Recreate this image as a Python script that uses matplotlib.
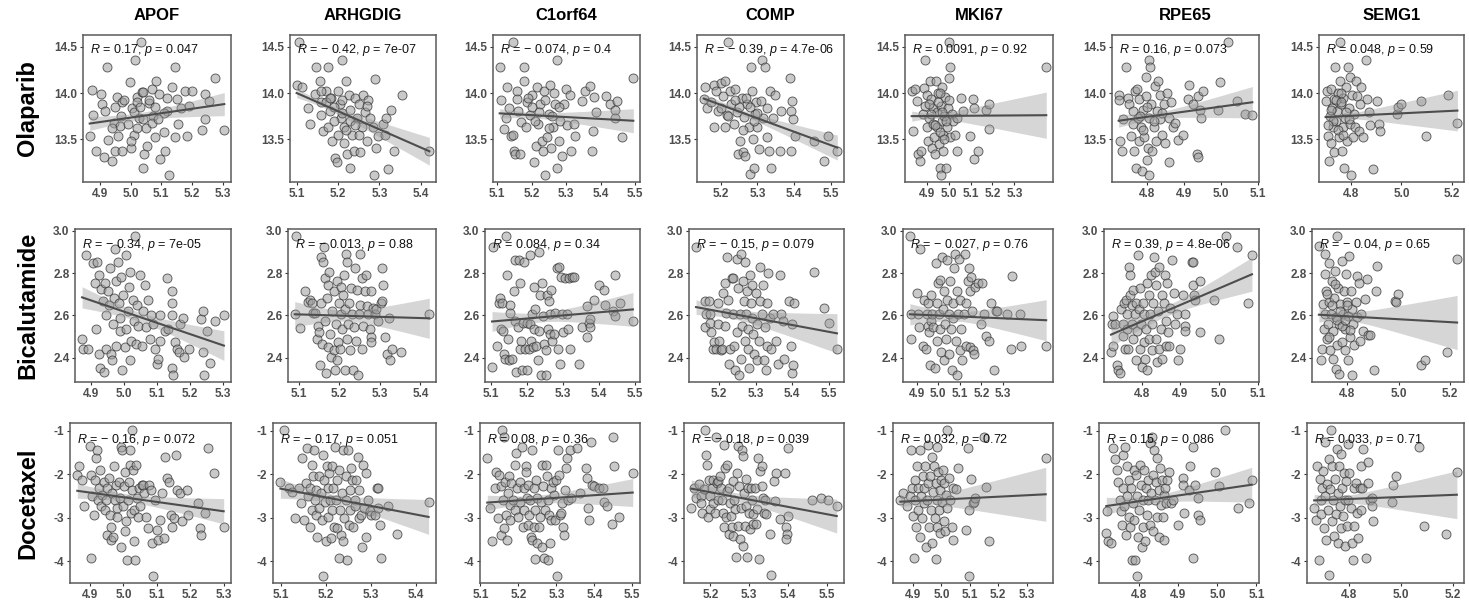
import numpy as np
import matplotlib
matplotlib.use("Agg")
import matplotlib.pyplot as plt
import matplotlib.transforms as mtransforms
from matplotlib.ticker import FixedLocator, FormatStrFormatter

plt.rcParams['font.family'] = ['Liberation Sans', 'DejaVu Sans']
plt.rcParams['font.weight'] = 'bold'
plt.rcParams['axes.unicode_minus'] = False
plt.rcParams['mathtext.fontset'] = 'custom'
plt.rcParams['mathtext.it'] = 'Liberation Sans:style=italic:weight=normal'
plt.rcParams['mathtext.rm'] = 'Liberation Sans:weight=normal'

GENES = ["APOF", "ARHGDIG", "C1orf64", "COMP", "MKI67", "RPE65", "SEMG1"]
DRUGS = ["Olaparib", "Bicalutamide", "Docetaxel"]

# correlation labels
OLA_R = [0.17, -0.42, -0.074, -0.39, 0.0091, 0.16, 0.048]
OLA_P = ["0.047", "7e-07", "0.4", "4.7e-06", "0.92", "0.073", "0.59"]
BIC_R = [-0.34, -0.013, 0.084, -0.15, -0.027, 0.39, -0.04]
BIC_P = ["7e-05", "0.88", "0.34", "0.079", "0.76", "4.8e-06", "0.65"]
DOC_R = [-0.16, -0.17, 0.08, -0.18, 0.032, 0.15, 0.033]
DOC_P = ["0.072", "0.051", "0.36", "0.039", "0.72", "0.086", "0.71"]

# x tick labels shown in each gene column
X_TICKS = [[4.9, 5.0, 5.1, 5.2, 5.3], [5.1, 5.2, 5.3, 5.4], [5.1, 5.2, 5.3, 5.4, 5.5],
           [5.2, 5.3, 5.4, 5.5], [4.9, 5.0, 5.1, 5.2, 5.3], [4.8, 4.9, 5.0, 5.1],
           [4.8, 5.0, 5.2]]
# y tick labels per drug row
Y_TICKS = [[13.5, 14.0, 14.5], [2.4, 2.6, 2.8, 3.0], [-4, -3, -2, -1]]

# drug response range per row (min, max)
Y_RANGE = [(13.11, 14.555), (2.318, 2.975), (-4.33, -0.99)]

# regression line: y at left end, y at right end, band half width left / narrowest / right
OLA_FIT = [(13.67, 13.88, 0.075, 0.04, 0.125), (14.0, 13.37, 0.05, 0.03, 0.15),
           (13.78, 13.70, 0.05, 0.03, 0.13), (13.94, 13.41, 0.055, 0.03, 0.135),
           (13.75, 13.76, 0.055, 0.025, 0.25), (13.70, 13.90, 0.07, 0.035, 0.17),
           (13.74, 13.81, 0.04, 0.025, 0.22)]
BIC_FIT = [(2.685, 2.457, 0.05, 0.022, 0.07), (2.605, 2.586, 0.06, 0.025, 0.095),
           (2.571, 2.628, 0.047, 0.022, 0.08), (2.639, 2.515, 0.035, 0.022, 0.093),
           (2.605, 2.577, 0.05, 0.022, 0.097), (2.509, 2.794, 0.055, 0.025, 0.08),
           (2.603, 2.566, 0.035, 0.02, 0.128)]
DOC_FIT = [(-2.38, -2.85, 0.17, 0.09, 0.29), (-2.33, -2.98, 0.22, 0.1, 0.4),
           (-2.65, -2.42, 0.17, 0.09, 0.32), (-2.33, -2.96, 0.2, 0.1, 0.39),
           (-2.63, -2.46, 0.12, 0.08, 0.62), (-2.73, -2.24, 0.2, 0.08, 0.4),
           (-2.60, -2.47, 0.14, 0.08, 0.55)]

# ---- Olaparib ----
OLA_APOF = [(4.867,13.54),(4.873,14.03),(4.878,13.76),(4.888,13.37),(4.913,13.31),(4.924,14.28),(4.904,13.99),(4.908,13.88),(4.918,13.81),(4.927,13.49),(4.938,13.26),(4.949,13.37),(4.946,13.68),(4.957,13.96),(4.967,13.64),(4.971,13.37),(4.973,13.90),(4.998,14.12),(5.000,13.41),(5.011,13.55),(5.005,13.84),(5.016,14.36),(5.020,13.96),(5.033,14.555),(5.027,13.73),(5.041,13.19),(5.043,13.34),(5.038,14.01),(5.054,13.43),(5.060,13.89),(5.071,14.04),(5.074,13.75),(5.082,14.13),(5.079,13.52),(5.096,13.29),(5.092,13.99),(5.109,13.58),(5.111,13.37),(5.124,13.11),(5.117,13.81),(5.136,14.07),(5.143,14.28),(5.146,13.52),(5.152,13.93),(5.154,13.66),(5.165,13.84),(5.177,14.02),(5.183,13.54),(5.190,13.86),(5.199,14.02),(5.234,13.60),(5.242,13.99),(5.241,13.72),(5.255,13.91),(5.275,14.16),(5.305,13.60),(4.95,13.85),(4.97,13.75),(4.99,13.66),(5.01,13.79),(5.02,13.90),(5.04,13.72),(5.05,13.62),(5.06,13.92),(5.08,13.85),(5.11,13.78),(4.94,13.62),(4.96,13.54),(5.00,13.48),(5.04,14.01),(5.03,13.85),(5.07,13.68),(5.09,13.72),(5.12,13.95),(4.98,13.92),(5.02,13.62)]
OLA_ARHGDIG = [(5.106,14.555),(5.100,14.09),(5.114,14.06),(5.128,13.84),(5.132,13.67),(5.148,14.28),(5.156,14.13),(5.144,13.99),(5.160,13.90),(5.158,13.76),(5.164,13.59),(5.176,14.28),(5.172,14.02),(5.184,13.95),(5.180,13.81),(5.176,13.63),(5.186,13.48),(5.193,13.30),(5.197,13.25),(5.200,14.02),(5.204,13.88),(5.208,13.73),(5.210,14.36),(5.214,13.63),(5.215,13.46),(5.220,14.13),(5.222,13.34),(5.226,13.98),(5.228,13.82),(5.230,13.19),(5.234,13.55),(5.238,13.37),(5.242,13.95),(5.245,13.73),(5.250,13.88),(5.253,13.36),(5.257,13.63),(5.261,13.98),(5.265,13.79),(5.269,13.48),(5.273,13.92),(5.277,13.73),(5.285,13.63),(5.289,14.15),(5.293,13.41),(5.287,13.11),(5.297,13.54),(5.309,13.66),(5.313,13.55),(5.317,13.73),(5.321,13.18),(5.329,13.82),(5.335,13.37),(5.355,13.98),(5.421,13.37),(5.17,13.90),(5.19,13.85),(5.21,13.78),(5.23,13.70),(5.19,13.70),(5.16,14.02),(5.22,13.60),(5.25,13.55),(5.20,13.55),(5.24,13.65),(5.18,13.95),(5.21,13.92),(5.27,13.86)]
OLA_C1ORF64 = [(5.107,14.28),(5.145,14.555),(5.112,13.92),(5.119,13.61),(5.124,13.73),(5.129,14.06),(5.134,13.84),(5.140,13.54),(5.145,13.55),(5.148,13.37),(5.151,13.34),(5.156,14.02),(5.158,13.93),(5.161,13.81),(5.165,13.34),(5.169,13.69),(5.177,14.28),(5.177,14.13),(5.182,13.63),(5.187,13.90),(5.194,13.76),(5.201,13.98),(5.208,13.25),(5.211,13.43),(5.216,14.06),(5.218,13.66),(5.225,13.88),(5.230,13.48),(5.233,13.37),(5.235,14.02),(5.240,13.11),(5.243,13.52),(5.249,13.77),(5.254,14.09),(5.256,13.41),(5.262,13.63),(5.266,14.00),(5.269,13.88),(5.273,14.36),(5.273,13.19),(5.278,13.48),(5.283,13.70),(5.288,13.32),(5.293,13.88),(5.300,14.04),(5.302,13.65),(5.310,13.98),(5.314,13.37),(5.322,13.66),(5.327,13.54),(5.346,13.91),(5.355,14.02),(5.370,14.08),(5.378,13.59),(5.375,13.37),(5.381,13.96),(5.387,13.79),(5.416,13.97),(5.428,13.88),(5.442,13.82),(5.447,13.91),(5.442,13.73),(5.461,13.52),(5.495,14.16),(5.20,13.85),(5.22,13.80),(5.24,13.92),(5.26,13.75),(5.19,13.95),(5.28,13.85),(5.21,13.70),(5.25,13.62)]
OLA_COMP = [(5.154,13.93),(5.158,14.06),(5.164,13.84),(5.173,13.90),(5.182,14.09),(5.182,13.63),(5.187,14.02),(5.193,13.81),(5.200,13.84),(5.202,14.11),(5.207,13.97),(5.213,14.13),(5.213,13.63),(5.218,13.76),(5.220,14.555),(5.225,14.02),(5.229,13.88),(5.236,13.66),(5.240,14.04),(5.245,13.79),(5.246,13.34),(5.254,13.48),(5.258,13.95),(5.262,13.36),(5.264,13.74),(5.267,13.32),(5.271,13.88),(5.276,13.63),(5.279,13.12),(5.282,14.28),(5.285,14.02),(5.288,13.50),(5.291,13.19),(5.294,13.77),(5.296,13.90),(5.300,13.63),(5.305,13.39),(5.309,13.91),(5.312,14.36),(5.316,13.73),(5.320,14.28),(5.325,13.52),(5.327,13.84),(5.332,13.37),(5.334,14.02),(5.338,13.19),(5.343,13.73),(5.349,13.98),(5.361,13.37),(5.365,13.81),(5.389,14.16),(5.392,13.81),(5.395,13.91),(5.392,13.37),(5.396,13.72),(5.403,13.54),(5.454,13.48),(5.481,13.27),(5.493,13.53),(5.517,13.37),(5.25,13.85),(5.27,13.95),(5.26,13.60),(5.29,13.70),(5.24,13.92),(5.28,13.85),(5.30,13.78),(5.22,13.75)]
OLA_MKI67 = [(4.832,14.02),(4.839,13.59),(4.847,14.04),(4.855,13.91),(4.862,13.34),(4.868,13.27),(4.876,13.37),(4.885,13.77),(4.888,14.05),(4.892,14.36),(4.894,13.86),(4.900,13.63),(4.903,13.98),(4.908,13.48),(4.912,13.73),(4.915,14.13),(4.918,13.93),(4.923,13.41),(4.927,13.66),(4.930,13.84),(4.933,13.52),(4.938,13.34),(4.942,14.13),(4.945,13.79),(4.948,13.63),(4.953,14.00),(4.958,13.45),(4.961,13.19),(4.964,13.86),(4.968,13.70),(4.968,14.06),(4.973,13.55),(4.976,13.37),(4.964,13.11),(4.979,13.75),(4.982,13.96),(4.986,13.19),(4.991,13.63),(4.998,13.84),(5.003,14.16),(5.006,14.28),(5.003,14.555),(5.006,13.52),(5.014,13.77),(5.021,13.70),(5.029,13.55),(5.036,13.73),(5.039,13.37),(5.055,13.95),(5.064,13.81),(5.097,13.53),(5.112,13.93),(5.115,13.29),(5.115,13.84),(5.135,13.37),(5.170,13.82),(5.186,13.88),(5.186,13.61),(5.445,14.28),(4.95,13.90),(4.97,13.80),(4.99,13.70),(4.92,13.77),(4.96,13.58),(5.00,13.92),(4.94,13.65),(4.98,13.50),(4.91,13.88),(4.96,14.00)]
OLA_RPE65 = [(4.723,13.98),(4.725,13.92),(4.727,13.48),(4.732,13.37),(4.736,13.72),(4.743,14.28),(4.748,13.95),(4.752,13.88),(4.757,13.54),(4.761,13.66),(4.763,13.81),(4.765,13.37),(4.768,14.02),(4.770,13.19),(4.772,14.04),(4.774,13.73),(4.777,13.48),(4.779,13.93),(4.783,13.63),(4.786,13.16),(4.788,13.82),(4.791,13.52),(4.796,14.17),(4.797,13.97),(4.800,13.28),(4.803,13.41),(4.805,13.11),(4.806,13.73),(4.806,14.36),(4.809,14.28),(4.811,13.88),(4.813,13.37),(4.818,13.63),(4.821,14.08),(4.823,13.48),(4.827,13.81),(4.830,14.13),(4.834,13.98),(4.836,13.72),(4.841,13.55),(4.845,13.88),(4.849,13.46),(4.854,14.00),(4.858,13.25),(4.860,13.73),(4.865,13.90),(4.869,13.63),(4.876,13.68),(4.883,13.49),(4.898,13.55),(4.910,13.93),(4.914,14.09),(4.925,13.88),(4.934,13.34),(4.937,13.31),(4.938,13.97),(4.943,13.82),(4.947,13.73),(4.951,14.02),(4.991,13.82),(4.998,14.12),(5.018,14.555),(5.044,13.91),(5.066,13.77),(5.085,13.76),(4.78,13.75),(4.80,13.85),(4.82,13.70),(4.79,13.60),(4.84,13.78)]
OLA_SEMG1 = [(4.699,13.91),(4.706,14.02),(4.708,13.54),(4.712,13.27),(4.716,13.75),(4.719,13.46),(4.721,14.04),(4.725,13.84),(4.729,13.63),(4.732,13.93),(4.734,13.36),(4.738,14.28),(4.742,13.70),(4.745,13.81),(4.747,14.00),(4.751,13.52),(4.755,14.555),(4.757,14.13),(4.760,13.88),(4.764,13.37),(4.768,13.63),(4.770,13.95),(4.772,13.19),(4.777,13.73),(4.781,14.06),(4.783,13.48),(4.787,14.28),(4.790,13.84),(4.794,13.66),(4.796,14.17),(4.799,13.11),(4.803,13.98),(4.806,13.52),(4.812,13.77),(4.816,13.63),(4.819,14.13),(4.825,13.97),(4.832,13.59),(4.835,13.88),(4.841,14.06),(4.848,13.52),(4.858,14.36),(4.863,13.93),(4.871,13.79),(4.876,13.65),(4.886,13.18),(4.901,13.91),(4.909,13.66),(4.914,13.59),(4.982,13.77),(4.988,13.85),(4.999,13.88),(5.079,13.91),(5.099,13.54),(5.183,13.98),(5.222,13.68),(4.73,13.70),(4.75,13.60),(4.76,14.00),(4.78,13.80),(4.72,13.82),(4.74,13.92),(4.77,13.55),(4.79,13.72),(4.71,13.65),(4.76,13.90)]

# ---- Bicalutamide ----
BIC_APOF = [(4.872,2.488),(4.874,2.442),(4.884,2.887),(4.889,2.442),(4.904,2.845),(4.910,2.752),(4.913,2.535),(4.917,2.853),(4.923,2.791),(4.923,2.419),(4.927,2.353),(4.930,2.726),(4.936,2.667),(4.938,2.333),(4.941,2.752),(4.944,2.442),(4.946,2.603),(4.951,2.713),(4.954,2.651),(4.956,2.825),(4.961,2.419),(4.964,2.388),(4.966,2.558),(4.968,2.682),(4.971,2.915),(4.974,2.760),(4.976,2.457),(4.981,2.853),(4.984,2.659),(4.987,2.589),(4.989,2.527),(4.992,2.783),(4.995,2.341),(4.997,2.698),(5.002,2.450),(5.005,2.884),(5.007,2.535),(5.012,2.620),(5.015,2.736),(5.017,2.388),(5.019,2.806),(5.022,2.481),(5.027,2.674),(5.029,2.574),(5.032,2.975),(5.035,2.465),(5.040,2.651),(5.043,2.550),(5.048,2.791),(5.053,2.457),(5.058,2.620),(5.063,2.744),(5.068,2.543),(5.073,2.674),(5.079,2.488),(5.081,2.603),(5.089,2.558),(5.094,2.442),(5.099,2.372),(5.104,2.395),(5.109,2.481),(5.110,2.603),(5.125,2.527),(5.130,2.775),(5.135,2.535),(5.145,2.713),(5.145,2.659),(5.145,2.603),(5.145,2.349),(5.150,2.318),(5.156,2.473),(5.161,2.442),(5.166,2.426),(5.171,2.558),(5.179,2.589),(5.181,2.403),(5.197,2.442),(5.233,2.581),(5.240,2.620),(5.240,2.426),(5.253,2.527),(5.261,2.375),(5.243,2.318),(5.276,2.571),(5.304,2.603)]
BIC_ARHGDIG = [(5.090,2.605),(5.092,2.974),(5.104,2.540),(5.116,2.713),(5.122,2.664),(5.128,2.674),(5.133,2.659),(5.136,2.612),(5.141,2.612),(5.146,2.488),(5.148,2.550),(5.149,2.519),(5.152,2.364),(5.154,2.876),(5.156,2.659),(5.157,2.465),(5.160,2.853),(5.162,2.922),(5.164,2.574),(5.165,2.775),(5.167,2.326),(5.170,2.682),(5.171,2.450),(5.173,2.744),(5.175,2.806),(5.178,2.512),(5.179,2.403),(5.183,2.620),(5.186,2.434),(5.187,2.713),(5.189,2.341),(5.191,2.558),(5.194,2.760),(5.195,2.388),(5.197,2.473),(5.199,2.659),(5.201,2.442),(5.203,2.736),(5.205,2.605),(5.207,2.535),(5.210,2.698),(5.211,2.791),(5.213,2.341),(5.215,2.628),(5.217,2.891),(5.219,2.488),(5.220,2.853),(5.222,2.558),(5.225,2.659),(5.227,2.434),(5.228,2.729),(5.232,2.605),(5.235,2.341),(5.236,2.543),(5.239,2.822),(5.241,2.481),(5.244,2.721),(5.247,2.318),(5.249,2.605),(5.251,2.891),(5.252,2.651),(5.255,2.775),(5.257,2.442),(5.259,2.550),(5.263,2.713),(5.267,2.791),(5.268,2.643),(5.271,2.605),(5.275,2.535),(5.279,2.713),(5.283,2.636),(5.287,2.605),(5.291,2.628),(5.295,2.574),(5.279,2.496),(5.279,2.473),(5.303,2.659),(5.305,2.667),(5.306,2.822),(5.308,2.744),(5.313,2.499),(5.318,2.419),(5.322,2.589),(5.326,2.388),(5.330,2.442),(5.352,2.426),(5.422,2.605)]
BIC_C1ORF64 = [(5.104,2.357),(5.107,2.922),(5.118,2.457),(5.123,2.659),(5.127,2.682),(5.129,2.535),(5.132,2.659),(5.135,2.527),(5.137,2.419),(5.141,2.395),(5.144,2.975),(5.146,2.791),(5.148,2.488),(5.150,2.388),(5.153,2.651),(5.155,2.612),(5.159,2.395),(5.164,2.713),(5.167,2.860),(5.168,2.574),(5.171,2.333),(5.175,2.543),(5.178,2.860),(5.181,2.752),(5.181,2.442),(5.183,2.481),(5.187,2.341),(5.190,2.566),(5.193,2.853),(5.196,2.442),(5.201,2.566),(5.202,2.341),(5.206,2.442),(5.208,2.884),(5.210,2.558),(5.212,2.481),(5.215,2.605),(5.217,2.450),(5.219,2.535),(5.221,2.732),(5.224,2.628),(5.226,2.457),(5.230,2.388),(5.233,2.899),(5.235,2.527),(5.237,2.698),(5.239,2.318),(5.242,2.752),(5.245,2.597),(5.247,2.465),(5.252,2.434),(5.254,2.318),(5.256,2.698),(5.258,2.535),(5.261,2.667),(5.264,2.605),(5.265,2.512),(5.268,2.721),(5.270,2.481),(5.275,2.512),(5.279,2.612),(5.284,2.822),(5.286,2.442),(5.289,2.829),(5.291,2.372),(5.295,2.783),(5.298,2.605),(5.300,2.519),(5.307,2.775),(5.312,2.605),(5.314,2.535),(5.316,2.775),(5.319,2.442),(5.325,2.783),(5.332,2.783),(5.344,2.369),(5.353,2.543),(5.367,2.643),(5.372,2.566),(5.376,2.543),(5.376,2.581),(5.367,2.496),(5.385,2.674),(5.399,2.744),(5.414,2.721),(5.417,2.648),(5.440,2.620),(5.444,2.791),(5.458,2.659),(5.444,2.597),(5.494,2.571)]
BIC_COMP = [(5.137,2.922),(5.161,2.670),(5.161,2.543),(5.165,2.605),(5.172,2.667),(5.174,2.605),(5.176,2.562),(5.178,2.519),(5.183,2.442),(5.187,2.473),(5.191,2.442),(5.196,2.659),(5.198,2.558),(5.200,2.481),(5.204,2.434),(5.209,2.442),(5.210,2.705),(5.216,2.752),(5.217,2.550),(5.219,2.612),(5.222,2.876),(5.224,2.674),(5.226,2.372),(5.230,2.442),(5.235,2.775),(5.237,2.605),(5.239,2.775),(5.242,2.457),(5.243,2.341),(5.248,2.868),(5.250,2.519),(5.252,2.729),(5.254,2.318),(5.257,2.605),(5.259,2.395),(5.261,2.891),(5.263,2.550),(5.265,2.760),(5.268,2.667),(5.270,2.481),(5.271,2.853),(5.274,2.605),(5.277,2.713),(5.278,2.535),(5.280,2.442),(5.283,2.349),(5.285,2.791),(5.287,2.659),(5.289,2.589),(5.291,2.744),(5.294,2.512),(5.296,2.419),(5.300,2.705),(5.303,2.558),(5.304,2.388),(5.309,2.481),(5.311,2.829),(5.313,2.667),(5.317,2.605),(5.320,2.744),(5.322,2.388),(5.326,2.543),(5.329,2.341),(5.330,2.659),(5.332,2.457),(5.335,2.798),(5.339,2.589),(5.343,2.442),(5.348,2.605),(5.357,2.481),(5.361,2.372),(5.367,2.791),(5.370,2.605),(5.374,2.574),(5.378,2.395),(5.391,2.667),(5.396,2.457),(5.400,2.558),(5.400,2.326),(5.404,2.659),(5.402,2.364),(5.461,2.806),(5.487,2.636),(5.500,2.566),(5.523,2.442)]
BIC_MKI67 = [(4.869,2.974),(4.873,2.605),(4.876,2.488),(4.903,2.705),(4.906,2.605),(4.913,2.543),(4.918,2.915),(4.928,2.457),(4.936,2.674),(4.943,2.442),(4.948,2.605),(4.951,2.550),(4.954,2.659),(4.958,2.519),(4.963,2.364),(4.966,2.574),(4.969,2.698),(4.973,2.605),(4.978,2.543),(4.984,2.349),(4.988,2.845),(4.993,2.659),(4.996,2.481),(4.999,2.752),(5.003,2.605),(5.007,2.767),(5.010,2.535),(5.013,2.426),(5.018,2.876),(5.022,2.628),(5.025,2.713),(5.028,2.388),(5.033,2.558),(5.037,2.488),(5.040,2.860),(5.043,2.674),(5.048,2.605),(5.052,2.419),(5.055,2.760),(5.058,2.535),(5.063,2.341),(5.067,2.659),(5.070,2.589),(5.073,2.822),(5.078,2.891),(5.082,2.481),(5.085,2.713),(5.088,2.318),(5.093,2.605),(5.097,2.868),(5.100,2.434),(5.103,2.674),(5.107,2.535),(5.112,2.388),(5.118,2.605),(5.122,2.891),(5.127,2.457),(5.130,2.659),(5.137,2.760),(5.142,2.822),(5.145,2.450),(5.149,2.713),(5.152,2.783),(5.157,2.620),(5.160,2.434),(5.167,2.419),(5.172,2.736),(5.182,2.752),(5.197,2.558),(5.204,2.752),(5.212,2.605),(5.219,2.504),(5.237,2.481),(5.242,2.659),(5.257,2.341),(5.267,2.620),(5.272,2.620),(5.316,2.605),(5.336,2.442),(5.340,2.788),(5.376,2.605),(5.381,2.457),(5.499,2.457)]
BIC_RPE65 = [(4.721,2.426),(4.723,2.558),(4.726,2.597),(4.727,2.457),(4.732,2.558),(4.736,2.364),(4.740,2.341),(4.744,2.326),(4.746,2.628),(4.751,2.504),(4.753,2.558),(4.754,2.659),(4.757,2.442),(4.759,2.674),(4.761,2.535),(4.763,2.605),(4.765,2.442),(4.768,2.829),(4.769,2.791),(4.771,2.698),(4.774,2.651),(4.776,2.558),(4.778,2.488),(4.779,2.721),(4.782,2.605),(4.785,2.388),(4.786,2.659),(4.788,2.527),(4.790,2.887),(4.793,2.628),(4.795,2.442),(4.796,2.729),(4.799,2.558),(4.801,2.357),(4.803,2.659),(4.805,2.473),(4.807,2.605),(4.810,2.395),(4.811,2.535),(4.813,2.752),(4.815,2.341),(4.818,2.698),(4.820,2.488),(4.821,2.605),(4.824,2.791),(4.826,2.434),(4.828,2.558),(4.830,2.659),(4.832,2.876),(4.835,2.806),(4.836,2.488),(4.838,2.744),(4.841,2.380),(4.843,2.620),(4.845,2.829),(4.846,2.442),(4.849,2.535),(4.852,2.698),(4.853,2.395),(4.857,2.659),(4.860,2.791),(4.862,2.457),(4.863,2.574),(4.866,2.752),(4.868,2.519),(4.872,2.457),(4.874,2.636),(4.878,2.860),(4.883,2.705),(4.887,2.558),(4.891,2.605),(4.895,2.388),(4.899,2.442),(4.912,2.605),(4.912,2.550),(4.912,2.527),(4.908,2.698),(4.929,2.853),(4.933,2.853),(4.933,2.744),(4.936,2.698),(4.937,2.674),(4.950,2.519),(4.950,2.760),(4.988,2.674),(5.000,2.488),(5.017,2.974),(5.046,2.922),(5.075,2.659),(5.085,2.887)]
BIC_SEMG1 = [(4.689,2.927),(4.698,2.388),(4.702,2.442),(4.704,2.653),(4.707,2.536),(4.711,2.606),(4.714,2.891),(4.714,2.794),(4.717,2.716),(4.719,2.489),(4.723,2.559),(4.727,2.661),(4.729,2.848),(4.732,2.434),(4.736,2.606),(4.739,2.763),(4.742,2.395),(4.744,2.528),(4.748,2.684),(4.752,2.809),(4.754,2.348),(4.757,2.591),(4.761,2.975),(4.761,2.458),(4.764,2.731),(4.767,2.559),(4.769,2.325),(4.773,2.653),(4.777,2.856),(4.779,2.473),(4.782,2.606),(4.786,2.716),(4.789,2.434),(4.792,2.536),(4.794,2.794),(4.798,2.661),(4.802,2.388),(4.804,2.598),(4.807,2.880),(4.811,2.497),(4.814,2.716),(4.817,2.630),(4.819,2.318),(4.823,2.559),(4.827,2.458),(4.832,2.661),(4.836,2.786),(4.839,2.591),(4.844,2.755),(4.848,2.481),(4.854,2.606),(4.861,2.528),(4.867,2.677),(4.877,2.770),(4.879,2.505),(4.886,2.505),(4.904,2.341),(4.911,2.716),(4.917,2.833),(4.986,2.669),(4.989,2.661),(4.998,2.703),(5.086,2.364),(5.104,2.388),(5.189,2.427),(5.227,2.864),(4.72,2.70),(4.74,2.65),(4.76,2.58),(4.78,2.55),(4.80,2.65),(4.73,2.50),(4.75,2.75),(4.77,2.62),(4.79,2.58),(4.81,2.53)]

# ---- Docetaxel ----
DOC_APOF = [(4.862,-2.02),(4.867,-1.82),(4.877,-2.13),(4.882,-2.74),(4.900,-1.35),(4.902,-2.02),(4.904,-3.92),(4.907,-2.51),(4.912,-2.93),(4.915,-2.13),(4.917,-1.63),(4.922,-1.44),(4.924,-2.59),(4.927,-2.32),(4.930,-1.90),(4.932,-2.74),(4.937,-2.47),(4.942,-2.17),(4.944,-2.82),(4.947,-2.59),(4.950,-3.39),(4.952,-2.32),(4.957,-2.09),(4.960,-2.93),(4.962,-3.50),(4.964,-3.20),(4.967,-2.44),(4.970,-3.43),(4.972,-1.82),(4.974,-2.59),(4.977,-2.24),(4.980,-2.78),(4.982,-2.97),(4.987,-2.17),(4.990,-2.55),(4.992,-1.37),(4.994,-3.66),(4.997,-1.44),(5.000,-2.74),(5.002,-2.28),(5.004,-3.31),(5.006,-1.94),(5.009,-3.08),(5.011,-3.96),(5.013,-2.59),(5.016,-2.17),(5.019,-1.79),(5.021,-1.44),(5.023,-2.89),(5.026,-0.99),(5.026,-2.36),(5.029,-1.90),(5.031,-2.82),(5.033,-3.54),(5.036,-3.96),(5.039,-1.79),(5.041,-2.55),(5.043,-2.97),(5.046,-2.32),(5.051,-2.74),(5.056,-2.24),(5.059,-2.24),(5.063,-2.44),(5.069,-2.97),(5.073,-3.24),(5.076,-2.24),(5.081,-2.36),(5.086,-3.58),(5.089,-4.33),(5.093,-2.59),(5.099,-3.27),(5.103,-3.50),(5.109,-3.05),(5.116,-2.44),(5.121,-3.47),(5.123,-1.60),(5.129,-2.09),(5.136,-2.17),(5.141,-2.93),(5.146,-3.20),(5.151,-3.01),(5.156,-1.56),(5.161,-2.36),(5.169,-2.44),(5.176,-3.08),(5.189,-2.36),(5.194,-2.93),(5.222,-2.66),(5.230,-3.24),(5.232,-3.39),(5.245,-2.88),(5.253,-1.40),(5.270,-1.98),(5.300,-3.20)]
DOC_ARHGDIG = [(5.105,-0.99),(5.098,-2.17),(5.117,-2.32),(5.124,-2.40),(5.130,-3.01),(5.139,-2.32),(5.143,-2.66),(5.145,-1.63),(5.150,-3.05),(5.154,-2.21),(5.158,-1.40),(5.160,-2.51),(5.163,-2.32),(5.165,-3.20),(5.168,-2.82),(5.169,-1.79),(5.171,-2.05),(5.173,-1.44),(5.175,-2.59),(5.177,-2.93),(5.178,-2.36),(5.180,-3.43),(5.183,-2.05),(5.184,-2.78),(5.188,-2.44),(5.190,-3.05),(5.192,-4.33),(5.193,-1.56),(5.195,-2.13),(5.198,-2.63),(5.199,-3.54),(5.201,-1.82),(5.203,-2.97),(5.205,-2.32),(5.207,-1.98),(5.208,-2.59),(5.210,-3.47),(5.213,-1.82),(5.214,-2.82),(5.216,-2.32),(5.218,-3.20),(5.220,-1.37),(5.222,-2.59),(5.223,-2.13),(5.225,-3.24),(5.228,-3.92),(5.229,-1.90),(5.231,-2.82),(5.233,-3.39),(5.235,-2.44),(5.237,-1.44),(5.238,-3.54),(5.240,-3.01),(5.243,-2.05),(5.244,-2.59),(5.246,-3.96),(5.248,-1.44),(5.250,-3.16),(5.252,-2.36),(5.253,-2.82),(5.255,-1.86),(5.258,-2.13),(5.259,-3.20),(5.263,-2.59),(5.265,-2.74),(5.267,-2.13),(5.270,-1.60),(5.273,-2.36),(5.274,-3.01),(5.278,-2.93),(5.280,-3.66),(5.282,-1.79),(5.285,-2.78),(5.288,-1.98),(5.289,-3.43),(5.293,-2.59),(5.297,-2.85),(5.300,-2.93),(5.308,-2.93),(5.312,-2.32),(5.315,-2.32),(5.315,-2.78),(5.320,-3.16),(5.323,-3.92),(5.338,-2.74),(5.358,-3.37),(5.428,-2.63)]
DOC_C1ORF64 = [(5.118,-1.63),(5.124,-2.78),(5.130,-3.54),(5.139,-2.32),(5.142,-1.94),(5.146,-3.01),(5.150,-2.02),(5.153,-2.28),(5.155,-3.39),(5.157,-0.99),(5.159,-2.59),(5.162,-3.24),(5.163,-1.14),(5.165,-2.17),(5.168,-2.93),(5.171,-3.50),(5.172,-2.44),(5.174,-2.05),(5.177,-2.70),(5.179,-3.05),(5.181,-2.21),(5.185,-2.59),(5.190,-1.79),(5.190,-2.82),(5.194,-1.52),(5.197,-2.32),(5.200,-2.97),(5.203,-2.17),(5.205,-2.63),(5.209,-1.37),(5.211,-3.20),(5.214,-2.32),(5.216,-2.82),(5.220,-1.82),(5.220,-1.94),(5.223,-2.55),(5.224,-3.16),(5.226,-2.24),(5.229,-2.93),(5.231,-2.59),(5.233,-3.43),(5.235,-1.44),(5.237,-3.50),(5.240,-2.32),(5.242,-3.20),(5.243,-2.82),(5.243,-3.95),(5.246,-2.13),(5.249,-3.58),(5.250,-2.55),(5.255,-3.20),(5.257,-2.97),(5.259,-2.63),(5.261,-3.66),(5.263,-1.79),(5.266,-2.28),(5.268,-3.92),(5.270,-2.82),(5.272,-1.79),(5.275,-2.05),(5.277,-2.59),(5.279,-3.96),(5.281,-2.93),(5.283,-3.58),(5.285,-2.32),(5.287,-3.05),(5.290,-2.17),(5.294,-2.47),(5.296,-3.05),(5.298,-2.13),(5.301,-4.33),(5.304,-1.44),(5.307,-2.02),(5.310,-2.93),(5.311,-2.89),(5.316,-2.66),(5.318,-3.20),(5.320,-3.39),(5.322,-2.36),(5.324,-1.86),(5.327,-1.63),(5.330,-2.59),(5.336,-1.44),(5.339,-2.55),(5.353,-1.40),(5.362,-2.44),(5.377,-1.86),(5.380,-2.09),(5.383,-2.78),(5.386,-3.05),(5.390,-1.27),(5.394,-2.24),(5.398,-2.28),(5.411,-2.32),(5.424,-2.32),(5.426,-2.63),(5.433,-2.74),(5.446,-3.15),(5.449,-1.15),(5.452,-1.81),(5.466,-2.97),(5.501,-1.98)]
DOC_COMP = [(5.151,-2.77),(5.158,-2.31),(5.164,-2.54),(5.170,-2.23),(5.175,-2.50),(5.176,-2.65),(5.179,-2.88),(5.185,-2.35),(5.187,-0.99),(5.190,-1.55),(5.192,-1.78),(5.194,-2.99),(5.196,-2.14),(5.198,-2.50),(5.200,-2.80),(5.204,-2.31),(5.207,-2.14),(5.208,-2.65),(5.213,-2.88),(5.215,-1.14),(5.217,-2.20),(5.219,-2.58),(5.221,-2.16),(5.224,-2.05),(5.227,-2.31),(5.230,-2.58),(5.232,-2.88),(5.234,-1.33),(5.236,-3.22),(5.238,-1.86),(5.241,-2.99),(5.242,-1.78),(5.244,-2.39),(5.247,-3.37),(5.249,-2.31),(5.251,-2.65),(5.253,-2.95),(5.255,-3.22),(5.258,-2.16),(5.259,-3.41),(5.261,-2.58),(5.264,-2.80),(5.266,-3.90),(5.268,-1.97),(5.270,-3.18),(5.272,-1.36),(5.275,-2.27),(5.276,-3.48),(5.278,-2.77),(5.281,-1.44),(5.283,-3.64),(5.285,-1.59),(5.287,-2.42),(5.289,-3.18),(5.292,-2.12),(5.293,-2.73),(5.295,-3.90),(5.298,-2.31),(5.300,-2.88),(5.302,-3.26),(5.304,-2.31),(5.306,-2.58),(5.309,-2.92),(5.310,-3.14),(5.315,-2.31),(5.317,-3.14),(5.319,-2.80),(5.323,-1.63),(5.326,-3.94),(5.327,-1.93),(5.332,-1.82),(5.334,-2.27),(5.336,-2.54),(5.338,-2.88),(5.340,-2.58),(5.344,-2.92),(5.353,-3.37),(5.355,-4.32),(5.363,-2.16),(5.366,-2.61),(5.370,-1.97),(5.378,-3.03),(5.391,-1.97),(5.395,-3.22),(5.397,-3.37),(5.400,-1.40),(5.400,-2.95),(5.395,-3.48),(5.462,-2.58),(5.485,-2.54),(5.502,-2.58),(5.525,-2.73)]
DOC_MKI67 = [(4.855,-2.58),(4.866,-2.43),(4.877,-2.73),(4.889,-2.50),(4.894,-1.44),(4.897,-2.31),(4.900,-2.96),(4.903,-3.92),(4.906,-2.13),(4.908,-2.59),(4.911,-3.20),(4.915,-1.82),(4.917,-2.82),(4.919,-2.32),(4.923,-3.43),(4.926,-1.44),(4.928,-2.51),(4.931,-3.01),(4.934,-2.05),(4.937,-2.66),(4.940,-2.32),(4.942,-1.82),(4.945,-3.66),(4.949,-2.59),(4.951,-1.33),(4.953,-2.21),(4.957,-3.20),(4.960,-2.05),(4.962,-2.82),(4.965,-1.60),(4.968,-3.58),(4.971,-2.40),(4.974,-1.82),(4.976,-3.01),(4.979,-2.21),(4.979,-3.95),(4.983,-2.59),(4.985,-1.37),(4.985,-3.20),(4.987,-1.94),(4.991,-2.82),(4.994,-2.36),(4.996,-3.35),(4.999,-2.13),(5.002,-2.63),(5.005,-1.90),(5.008,-3.08),(5.010,-2.21),(5.013,-3.31),(5.017,-2.48),(5.019,-0.99),(5.021,-2.78),(5.025,-2.09),(5.030,-2.59),(5.036,-3.20),(5.039,-3.50),(5.042,-2.32),(5.051,-2.34),(5.059,-1.86),(5.085,-3.27),(5.093,-1.40),(5.096,-2.82),(5.098,-4.33),(5.104,-2.11),(5.110,-2.66),(5.115,-2.63),(5.118,-2.55),(5.155,-2.30),(5.169,-3.54),(5.149,-1.14),(5.367,-1.63)]
DOC_RPE65 = [(4.715,-3.35),(4.718,-2.85),(4.720,-3.54),(4.727,-3.58),(4.733,-1.40),(4.738,-1.65),(4.742,-1.90),(4.746,-2.17),(4.750,-2.59),(4.752,-2.85),(4.755,-3.16),(4.757,-1.56),(4.759,-2.32),(4.761,-2.74),(4.763,-1.37),(4.766,-3.39),(4.768,-1.82),(4.769,-2.51),(4.772,-2.97),(4.774,-2.13),(4.776,-3.20),(4.778,-2.32),(4.780,-3.96),(4.783,-2.66),(4.785,-1.90),(4.786,-3.05),(4.789,-3.96),(4.791,-2.02),(4.793,-2.51),(4.795,-4.33),(4.797,-3.43),(4.800,-2.82),(4.802,-1.79),(4.803,-2.24),(4.806,-3.66),(4.809,-2.59),(4.810,-3.20),(4.812,-1.90),(4.815,-3.54),(4.817,-2.32),(4.819,-2.93),(4.821,-2.13),(4.823,-2.59),(4.826,-3.16),(4.827,-1.29),(4.829,-2.44),(4.832,-1.14),(4.834,-2.02),(4.836,-3.31),(4.838,-1.44),(4.840,-2.59),(4.843,-2.17),(4.844,-2.97),(4.846,-1.63),(4.849,-2.36),(4.851,-3.43),(4.853,-1.86),(4.855,-2.70),(4.857,-2.13),(4.860,-2.97),(4.862,-2.48),(4.863,-3.50),(4.866,-2.32),(4.868,-2.66),(4.870,-2.13),(4.877,-1.94),(4.880,-2.66),(4.887,-2.59),(4.900,-3.16),(4.911,-2.09),(4.913,-2.24),(4.915,-2.89),(4.926,-2.36),(4.930,-1.82),(4.937,-3.92),(4.938,-1.37),(4.943,-2.24),(4.949,-2.55),(4.951,-2.93),(4.956,-3.05),(4.994,-1.94),(5.005,-2.28),(5.020,-0.99),(5.054,-2.78),(5.080,-2.66),(5.088,-2.13)]
DOC_SEMG1 = [(4.663,-2.77),(4.669,-3.05),(4.675,-1.81),(4.681,-3.96),(4.684,-2.12),(4.688,-2.58),(4.691,-2.92),(4.694,-2.31),(4.696,-1.92),(4.700,-3.23),(4.704,-1.27),(4.706,-2.50),(4.709,-3.50),(4.713,-2.23),(4.716,-2.81),(4.719,-1.65),(4.721,-4.31),(4.725,-2.35),(4.729,-0.99),(4.731,-3.08),(4.734,-1.81),(4.738,-2.58),(4.741,-3.42),(4.744,-2.12),(4.746,-2.92),(4.750,-1.42),(4.754,-2.42),(4.756,-3.58),(4.759,-1.81),(4.763,-2.73),(4.766,-3.23),(4.769,-1.54),(4.771,-2.31),(4.775,-2.96),(4.779,-1.96),(4.781,-2.58),(4.784,-3.65),(4.788,-2.15),(4.791,-3.19),(4.794,-1.31),(4.796,-2.58),(4.800,-1.96),(4.806,-2.77),(4.809,-3.58),(4.813,-3.96),(4.816,-2.31),(4.819,-3.19),(4.825,-2.19),(4.829,-2.88),(4.834,-3.46),(4.841,-2.31),(4.844,-1.81),(4.846,-2.81),(4.850,-2.31),(4.854,-1.42),(4.863,-3.92),(4.871,-2.19),(4.881,-2.58),(4.888,-2.54),(4.888,-2.73),(4.891,-3.08),(4.871,-1.73),(4.969,-2.25),(4.966,-2.63),(4.981,-2.04),(5.071,-1.38),(5.088,-3.18),(5.175,-3.38),(5.216,-1.95)]

POINTS = [
    [OLA_APOF, OLA_ARHGDIG, OLA_C1ORF64, OLA_COMP, OLA_MKI67, OLA_RPE65, OLA_SEMG1],
    [BIC_APOF, BIC_ARHGDIG, BIC_C1ORF64, BIC_COMP, BIC_MKI67, BIC_RPE65, BIC_SEMG1],
    [DOC_APOF, DOC_ARHGDIG, DOC_C1ORF64, DOC_COMP, DOC_MKI67, DOC_RPE65, DOC_SEMG1],
]
FITS = [OLA_FIT, BIC_FIT, DOC_FIT]
R_VALS = [OLA_R, BIC_R, DOC_R]
P_VALS = [OLA_P, BIC_P, DOC_P]

# layout in pixels (panel boxes)
W, H = 1469, 602
RIGHTS = [231, 436, 640, 844, 1053, 1259, 1464]
LEFTS = [[83, 290, 493, 697, 905, 1112, 1319],
         [75, 288, 485, 689, 903, 1104, 1312],
         [70, 273, 480, 684, 893, 1099, 1307]]
TOPS = [35, 229, 423]
BOTTOMS = [182, 382, 583]
Y_FMT = ['%.1f', '%.1f', '%d']


def band_halfwidth(x, x0, x1, h0, hm, h1):
    a = hm ** 2
    d0 = np.sqrt(max(h0 ** 2 - a, 0.0))
    d1 = np.sqrt(max(h1 ** 2 - a, 0.0))
    sb = (d0 + d1) / (x1 - x0)
    if sb == 0:
        return np.full_like(x, hm)
    xc = x0 + d0 / sb
    return np.sqrt(a + sb ** 2 * (x - xc) ** 2)


def fmt_r(r):
    if r < 0:
        return "\u2212 " + f"{abs(r):g}"
    return f"{r:g}"


fig = plt.figure(figsize=(W / 100, H / 100), dpi=100)

for i in range(3):
    for j in range(7):
        l, r = LEFTS[i][j], RIGHTS[j]
        t, b = TOPS[i], BOTTOMS[i]
        ax = fig.add_axes([l / W, 1 - b / H, (r - l) / W, (b - t) / H])
        pts = np.array(POINTS[i][j])
        x, y = pts[:, 0], pts[:, 1]
        ax.scatter(x, y, s=42, facecolors=[(0.62, 0.62, 0.62, 0.55)],
                   edgecolors=[(0.22, 0.22, 0.22, 0.8)], linewidths=0.65, zorder=2)

        xmin, xmax = x.min(), x.max()
        y0, y1, h0, hm, h1 = FITS[i][j]
        xs = np.linspace(xmin, xmax, 120)
        yl = y0 + (y1 - y0) * (xs - xmin) / (xmax - xmin)
        hw = band_halfwidth(xs, xmin, xmax, h0, hm, h1)
        ax.fill_between(xs, yl - hw, yl + hw, color='#999999', alpha=0.4,
                        linewidth=0, zorder=3)
        ax.plot(xs, yl, color='#4d4d4d', lw=1.5, zorder=4)

        dx = xmax - xmin
        ax.set_xlim(xmin - 0.05 * dx, xmax + 0.05 * dx)
        ylo, yhi = Y_RANGE[i]
        dy = yhi - ylo
        ax.set_ylim(ylo - 0.05 * dy, yhi + 0.05 * dy)

        ax.xaxis.set_major_locator(FixedLocator(X_TICKS[j]))
        ax.xaxis.set_major_formatter(FormatStrFormatter('%.1f'))
        ax.yaxis.set_major_locator(FixedLocator(Y_TICKS[i]))
        ax.yaxis.set_major_formatter(FormatStrFormatter(Y_FMT[i]))
        ax.tick_params(length=2.5, width=0.8, color='#333333', labelsize=8.5,
                       labelcolor='#4d4d4d', pad=1.5)
        for sp in ax.spines.values():
            sp.set_color('#5a5a5a')
            sp.set_linewidth(1.1)

        label = f"$R$ = {fmt_r(R_VALS[i][j])}, $p$ = {P_VALS[i][j]}"
        trans = mtransforms.blended_transform_factory(ax.transData, ax.transAxes)
        ax.text(xmin, 0.895, label, transform=trans, fontsize=9,
                fontweight='normal', va='center', ha='left', color='#111111',
                zorder=6)

        if i == 0:
            fig.text((l + r) / 2 / W, 1 - 16 / H, GENES[j], fontsize=12,
                     fontweight='bold', ha='center', va='center')
    fig.text(28 / W, 1 - (TOPS[i] + BOTTOMS[i]) / 2 / H, DRUGS[i], fontsize=17,
             fontweight='bold', rotation=90, ha='center', va='center')

fig.savefig("out.png", dpi=100)
